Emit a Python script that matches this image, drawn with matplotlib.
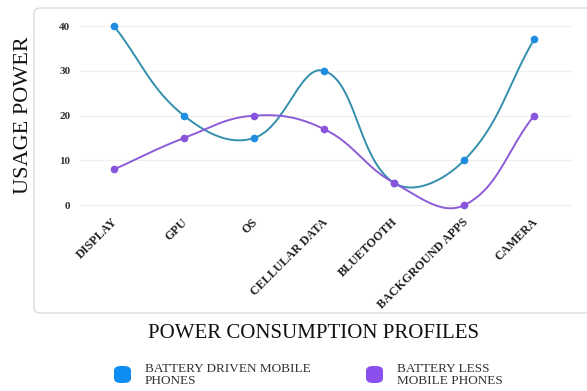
import numpy as np
import matplotlib
matplotlib.use("Agg")
import matplotlib.pyplot as plt
from matplotlib.patches import FancyBboxPatch

categories = ["DISPLAY", "GPU", "OS", "CELLULAR DATA", "BLUETOOTH",
              "BACKGROUND APPS", "CAMERA"]
battery_driven = [40, 20, 15, 30, 5, 10, 37]
battery_less = [8, 15, 20, 17, 5, 0, 20]
y_ticks = [0, 10, 20, 30, 40]
series_names = ["BATTERY DRIVEN MOBILE\nPHONES", "BATTERY LESS\nMOBILE PHONES"]

plt.rcParams["font.family"] = ["Liberation Serif", "DejaVu Serif"]

W, H = 587, 391
fig = plt.figure(figsize=(W / 100, H / 100), dpi=100)


def fx(px):
    return px / W


def fy(py):
    return 1 - py / H


# rounded card behind the plot
card = FancyBboxPatch((fx(34), fy(313)), fx(600) - fx(34), fy(8) - fy(313),
                      boxstyle="round,pad=0,rounding_size=0.012",
                      transform=fig.transFigure, facecolor="white",
                      edgecolor="#dcdcdc", linewidth=1.0, zorder=-5)
fig.patches.append(card)

ax_left, ax_right, ax_top, ax_bot = 80, 572, 26, 212
ax = fig.add_axes([fx(ax_left), fy(ax_bot), fx(ax_right) - fx(ax_left),
                   fy(ax_top) - fy(ax_bot)])
ax.set_zorder(1)
ax.set_facecolor("none")
ax.patch.set_alpha(0)
x = np.arange(len(categories))
ax.set_xlim(-(114 - ax_left) / 70, len(categories) - 1 + (ax_right - 534) / 70)
ax.set_ylim(-1.5, 40)


def spline(xs, ys, tension=0.4, sx=70.0, sy=4.5, n=40):
    """Cardinal-style bezier through points (control points in pixel space)."""
    px = np.asarray(xs, float) * sx
    py = np.asarray(ys, float) * sy
    m = len(px)
    cps = []
    for i in range(m):
        p = np.array([px[max(i - 1, 0)], py[max(i - 1, 0)]])
        c = np.array([px[i], py[i]])
        q = np.array([px[min(i + 1, m - 1)], py[min(i + 1, m - 1)]])
        d01 = np.hypot(*(c - p))
        d12 = np.hypot(*(q - c))
        tot = d01 + d12
        s01 = d01 / tot if tot else 0
        s12 = d12 / tot if tot else 0
        fa, fb = tension * s01, tension * s12
        cps.append((c - fa * (q - p), c + fb * (q - p)))
    out_x, out_y = [], []
    t = np.linspace(0, 1, n)[:, None]
    for i in range(m - 1):
        p0 = np.array([px[i], py[i]])
        p3 = np.array([px[i + 1], py[i + 1]])
        p1 = cps[i][1]
        p2 = cps[i + 1][0]
        seg = ((1 - t) ** 3) * p0 + 3 * ((1 - t) ** 2) * t * p1 \
            + 3 * (1 - t) * t ** 2 * p2 + t ** 3 * p3
        out_x.extend(seg[:, 0] / sx)
        out_y.extend(seg[:, 1] / sy)
    return np.array(out_x), np.array(out_y)


for ys, line_c, mark_c in [(battery_driven, "#348fae", "#1f8ee0"),
                           (battery_less, "#8c5cd8", "#8a55dd")]:
    sx_, sy_ = spline(x, ys)
    ax.plot(sx_, sy_, color=line_c, linewidth=1.4, zorder=3, clip_on=False)
    ax.plot(x, ys, "o", color=mark_c, markersize=4.5, zorder=4, clip_on=False)

ax.set_yticks(y_ticks)
ax.set_yticklabels([str(v) for v in y_ticks], fontsize=8, fontweight="bold",
                   color="#333333")
ax.tick_params(axis="y", length=0, pad=7)
ax.grid(axis="y", color="#efefef", linewidth=0.8)
ax.set_axisbelow(True)
ax.set_xticks(x)
ax.set_xticklabels([])
ax.tick_params(axis="x", length=0)
for s in ax.spines.values():
    s.set_visible(False)

for i, lab in enumerate(categories):
    ax.annotate(lab, xy=(i, 0), xycoords="data", xytext=(2, -15),
                textcoords="offset pixels", rotation=45, ha="right",
                va="center", rotation_mode="anchor", fontsize=8.7,
                fontweight="bold", color="#222222")

fig.text(fx(24), fy(115), "USAGE POWER", rotation=90, ha="center",
         va="center", fontsize=16, color="#111111")
fig.text(fx(314), fy(334), "POWER CONSUMPTION PROFILES", ha="center",
         va="center", fontsize=15, color="#111111")

# legend
for (sqx, txt_x, name, col) in [(114, 145, series_names[0], "#0d8cf2"),
                                (366, 397, series_names[1], "#8b4ff0")]:
    sq = FancyBboxPatch((fx(sqx), fy(383)), fx(17), fy(366) - fy(383),
                        boxstyle="round,pad=0,rounding_size=0.012",
                        transform=fig.transFigure, facecolor=col,
                        edgecolor="none")
    fig.patches.append(sq)
    fig.text(fx(txt_x), fy(375), name, ha="left", va="center", fontsize=9.5,
             color="#333333", linespacing=0.9)

fig.savefig("out.png", dpi=100, facecolor="white")
